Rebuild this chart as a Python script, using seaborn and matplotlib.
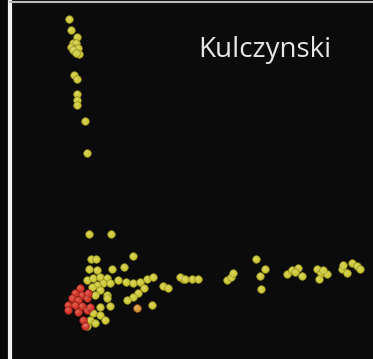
import matplotlib
matplotlib.use("Agg")
import matplotlib.pyplot as plt
import seaborn as sns
import pandas as pd

# ordination scores (arbitrary units)
yellow_x = [69, 71, 77, 73, 76, 71, 74, 78, 79, 73, 76, 74, 77, 77, 77, 77, 85, 87,
            183, 192, 198, 227, 231, 233, 256, 265, 260, 261, 287, 292, 298, 302, 295,
            317, 321, 327, 319, 323, 342, 347, 352, 357, 360, 343,
            89, 111, 91, 96, 133, 124, 89, 97, 112, 87, 93, 100, 107, 103, 97, 110, 92,
            100, 107, 95, 118, 126, 133, 140, 147, 153, 144, 138, 133, 127, 163, 168,
            180, 185, 152, 110, 100, 93, 100, 105, 90, 87, 95, 107]
yellow_y = [340, 329, 322, 316, 316, 312, 310, 311, 305, 309, 306, 284, 280, 265, 259, 254, 238, 206,
            80, 80, 80, 79, 82, 86, 100, 90, 83, 70, 85, 89, 91, 83, 87,
            90, 86, 85, 80, 89, 90, 86, 96, 93, 90, 94,
            125, 125, 100, 100, 103, 92, 90, 89, 90, 79, 81, 82, 81, 76, 74, 76, 72,
            69, 64, 64, 79, 77, 76, 77, 80, 82, 71, 66, 62, 59, 73, 71,
            82, 80, 54, 53, 52, 46, 44, 39, 39, 33, 36, 61]
orange_x = [137]
orange_y = [51]
red_x = [80, 75, 82, 72, 78, 87, 68, 75, 82, 68, 78, 87, 83, 85, 90, 88]
red_y = [71, 66, 64, 61, 59, 61, 54, 54, 53, 49, 47, 49, 39, 33, 52, 66]

df = pd.concat([
    pd.DataFrame({"x": yellow_x, "y": yellow_y, "group": "A"}),
    pd.DataFrame({"x": orange_x, "y": orange_y, "group": "B"}),
    pd.DataFrame({"x": red_x, "y": red_y, "group": "C"}),
])
palette = {"A": "#cfca3a", "B": "#d79a3a", "C": "#d63a2c"}
edges = {"A": "#8f8a1e", "B": "#9a5a1e", "C": "#8e1e16"}

bg = "#0b0b0b"
fig = plt.figure(figsize=(3.73, 3.59), dpi=100, facecolor=bg)
ax = fig.add_axes([10 / 373, 0, 363 / 373, 357 / 359])
ax.set_facecolor(bg)

for g in ["A", "B", "C"]:
    sub = df[df.group == g]
    sns.scatterplot(data=sub, x="x", y="y", color=palette[g], edgecolor=edges[g],
                    linewidth=0.5, s=30, ax=ax, legend=False, zorder=3)
    # small highlight to mimic the shaded balls
    ax.scatter(sub.x - 0.8, sub.y + 0.8, s=8, color="white", alpha=0.15,
               linewidths=0, zorder=4)

ax.set_xlim(10, 373)
ax.set_ylim(0, 357)
ax.set_xticks([])
ax.set_yticks([])
ax.set_xlabel("")
ax.set_ylabel("")
for side in ["right", "bottom"]:
    ax.spines[side].set_visible(False)
ax.spines["left"].set_color("#f2f2f2")
ax.spines["left"].set_linewidth(3)
ax.spines["top"].set_color("#bdbdbd")
ax.spines["top"].set_linewidth(1.5)

ax.text(265, 309, "Kulczynski", color="#e6e6e6", fontsize=20, family="Open Sans",
        fontweight="medium", ha="center", va="center")

fig.savefig("out.png", dpi=100, facecolor=bg)
